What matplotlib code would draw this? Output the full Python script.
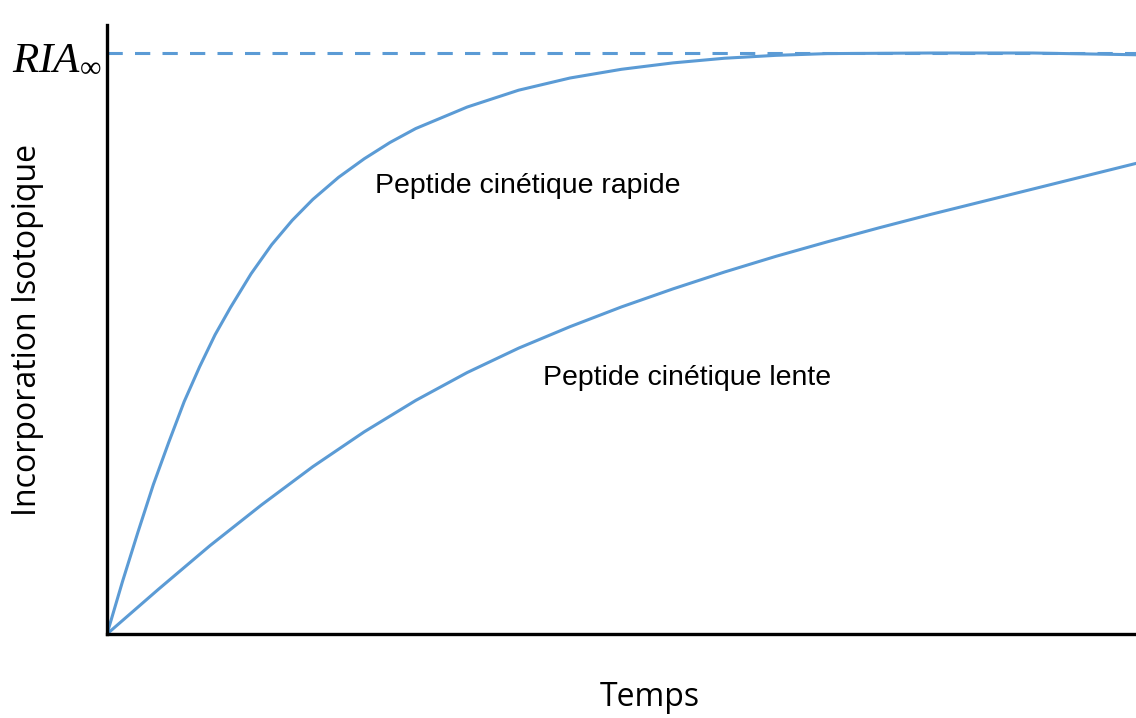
import matplotlib
matplotlib.use("Agg")
import matplotlib.pyplot as plt

# time (arbitrary units) and isotopic incorporation (fraction of RIA_inf)
t_fast = [0, 0.15, 0.3, 0.45, 0.6, 0.75, 0.9, 1.05, 1.2, 1.4, 1.6, 1.8, 2.0,
          2.25, 2.5, 2.75, 3.0, 3.5, 4.0, 4.5, 5.0, 5.5, 6.0, 6.5, 7.0,
          8.0, 9.0, 10.0]
fast = [0, 0.09, 0.175, 0.257, 0.33, 0.40, 0.46, 0.515, 0.562, 0.62, 0.67,
        0.712, 0.748, 0.786, 0.818, 0.846, 0.87, 0.907, 0.936, 0.957, 0.972,
        0.983, 0.991, 0.996, 0.999, 1.0, 1.0, 0.997]

t_slow = [0, 0.5, 1.0, 1.5, 2.0, 2.5, 3.0, 3.5, 4.0, 4.5, 5.0, 5.5, 6.0,
          6.5, 7.0, 7.5, 8.0, 8.5, 9.0, 9.5, 10.0]
slow = [0, 0.077, 0.152, 0.222, 0.288, 0.348, 0.402, 0.45, 0.492, 0.529,
        0.563, 0.594, 0.623, 0.65, 0.675, 0.699, 0.722, 0.744, 0.766, 0.788, 0.81]

ria_inf = 1.0
blue = '#5b9bd5'

plt.rcParams['mathtext.fontset'] = 'custom'
plt.rcParams['mathtext.it'] = 'Liberation Serif:italic'
plt.rcParams['mathtext.rm'] = 'Liberation Serif'

fig = plt.figure(figsize=(11.36, 7.18), dpi=100)
ax = fig.add_axes([0.0942, 0.117, 0.9058, 0.848])

ax.plot(t_fast, fast, color=blue, lw=2.2, solid_capstyle='round')
ax.plot(t_slow, slow, color=blue, lw=2.2, solid_capstyle='round')
ax.axhline(ria_inf, color=blue, lw=2.2, dashes=(5, 4))

ax.text(2.60, 0.771, 'Peptide cinétique rapide', family='Liberation Sans',
        fontsize=20.5, va='center', ha='left')
ax.text(4.24, 0.44, 'Peptide cinétique lente', family='Liberation Sans',
        fontsize=20.5, va='center', ha='left')

ax.set_xlim(0, 10)
ax.set_ylim(0, 1.048)
ax.set_xticks([])
ax.set_yticks([ria_inf])
ax.set_yticklabels([r'$RIA_{\infty}$'], fontsize=31)
ax.tick_params(axis='y', length=0, pad=4)

for s in ['top', 'right']:
    ax.spines[s].set_visible(False)
for s in ['left', 'bottom']:
    ax.spines[s].set_linewidth(2.4)
    ax.spines[s].set_color('black')

fig.text(28 / 1136, 1 - 330 / 718, 'Incorporation Isotopique', family='Open Sans',
         fontsize=23, rotation=90, ha='center', va='center')
fig.text(650 / 1136, 1 - 698 / 718, 'Temps', family='Open Sans',
         fontsize=23, ha='center', va='center')

fig.savefig('out.png', dpi=100)
